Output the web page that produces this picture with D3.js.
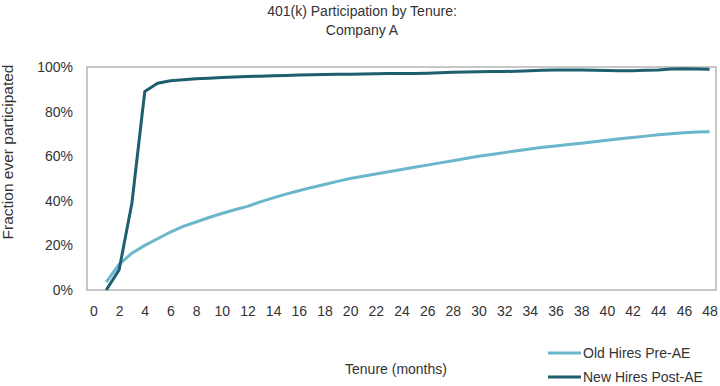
<!DOCTYPE html>
<html>
<head>
<meta charset="utf-8">
<script src="https://cdn.jsdelivr.net/npm/d3@7"></script>
<style>
  body { margin: 0; background: #fff; }
  text { font-family: "Liberation Sans", Arial, sans-serif; fill: #333; }
</style>
</head>
<body>
<div id="chart"></div>
<script>
// Data (fraction ever participated, in %)
const months = d3.range(1, 49);
const oldHires = [3.5, 11.5, 16.5, 20, 23, 26, 28.5, 30.5, 32.5, 34.3, 36, 37.5,
    39.5, 41.3, 43, 44.5, 46, 47.3, 48.7, 50, 51, 52, 53, 54,
    55, 56, 57, 58, 59, 60, 60.8, 61.6, 62.4, 63.2, 64, 64.6,
    65.2, 65.8, 66.5, 67.2, 67.8, 68.4, 69, 69.6, 70.1, 70.5, 70.8, 71];
const newHires = [0, 9, 39, 89, 92.7, 93.8, 94.3, 94.7, 95, 95.3, 95.5, 95.7,
    95.9, 96.1, 96.2, 96.4, 96.5, 96.6, 96.7, 96.8, 96.9, 97, 97.1, 97.1,
    97.1, 97.2, 97.4, 97.6, 97.8, 97.9, 98, 98, 98.1, 98.3, 98.5, 98.6,
    98.6, 98.6, 98.5, 98.4, 98.3, 98.3, 98.5, 98.7, 99.1, 99.2, 99.1, 99];
const xTicks = d3.range(0, 49, 2);
const yTicks = [0, 20, 40, 60, 80, 100];
const seriesNames = ["Old Hires Pre-AE", "New Hires Post-AE"];
const colors = ["#6ab6cb", "#1e5e6e"];

const width = 720;
const height = 386;
const margin = { top: 67, right: 4, bottom: 96, left: 87 };

const svg = d3.select("#chart").append("svg")
    .attr("width", width)
    .attr("height", height);

// Category-style x axis: 49 slots, labels centred
const x = d3.scaleLinear()
    .domain([-0.5, 48.5])
    .range([margin.left, width - margin.right]);

const y = d3.scaleLinear()
    .domain([0, 100])
    .range([height - margin.bottom, margin.top]);

// Title
svg.append("text")
    .attr("x", 362).attr("y", 16)
    .attr("text-anchor", "middle")
    .style("font-size", "14px")
    .text("401(k) Participation by Tenure:");
svg.append("text")
    .attr("x", 362).attr("y", 35)
    .attr("text-anchor", "middle")
    .style("font-size", "14px")
    .text("Company A");

// Plot frame
svg.append("rect")
    .attr("x", x(-0.5)).attr("y", y(100))
    .attr("width", x(48.5) - x(-0.5))
    .attr("height", y(0) - y(100))
    .attr("fill", "none")
    .attr("stroke", "#b5b5b5")
    .attr("stroke-width", 1.5);

// Axes (labels only)
const xAxis = svg.append("g")
    .attr("transform", `translate(0,${y(0)})`)
    .call(d3.axisBottom(x).tickValues(xTicks).tickSize(0).tickPadding(16).tickFormat(d3.format("d")));
const yAxis = svg.append("g")
    .attr("transform", `translate(${x(-0.5)},0)`)
    .call(d3.axisLeft(y).tickValues(yTicks).tickSize(0).tickPadding(14).tickFormat(d => d + "%"));
[xAxis, yAxis].forEach(g => {
    g.select(".domain").remove();
    g.selectAll("text").style("font-size", "14px").style("font-family", "\"Liberation Sans\", Arial, sans-serif").attr("fill", "#333");
});

// Axis titles
svg.append("text")
    .attr("transform", "translate(13,152) rotate(-90)")
    .attr("text-anchor", "middle")
    .style("font-size", "15.5px")
    .text("Fraction ever participated");
svg.append("text")
    .attr("x", 396).attr("y", 374)
    .attr("text-anchor", "middle")
    .style("font-size", "14px")
    .text("Tenure (months)");

// Lines
const line = d3.line()
    .x((d, i) => x(months[i]))
    .y(d => y(d));

[oldHires, newHires].forEach((values, i) => {
    svg.append("path")
        .datum(values)
        .attr("fill", "none")
        .attr("stroke", colors[i])
        .attr("stroke-width", 3)
        .attr("stroke-linejoin", "round")
        .attr("d", line);
});

// Legend
const legend = svg.append("g")
    .attr("transform", "translate(548,353)");
seriesNames.forEach((name, i) => {
    const row = legend.append("g").attr("transform", `translate(0,${i * 24})`);
    row.append("line")
        .attr("x1", 0).attr("x2", 33)
        .attr("stroke", colors[i])
        .attr("stroke-width", 3);
    row.append("text")
        .attr("x", 35).attr("y", 5)
        .style("font-size", "14px")
        .text(name);
});
</script>
</body>
</html>
